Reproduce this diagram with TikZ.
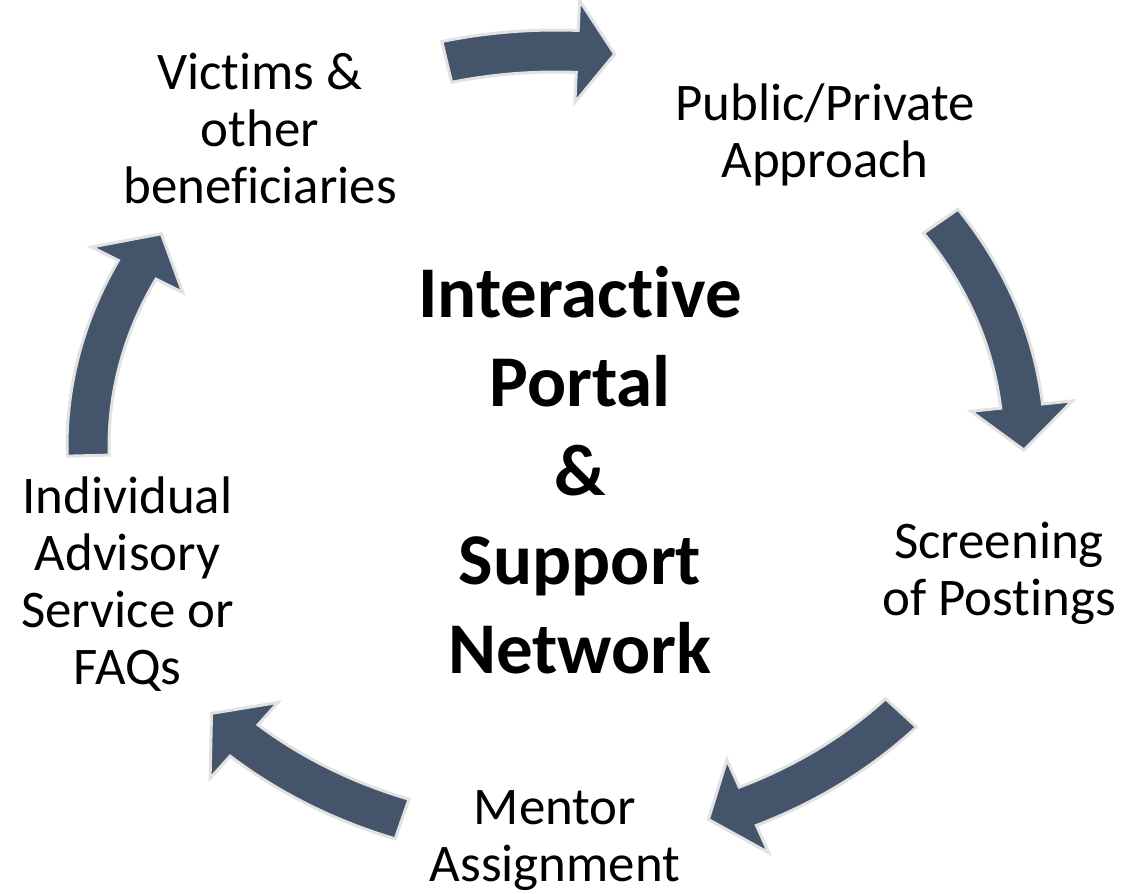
\documentclass[tikz,border=0pt]{standalone}
\usepackage{fontspec}
\setmainfont{Carlito}[Ligatures={CommonOff,ContextualOff,RequiredOff}]
\usepackage{tikz}
\definecolor{slate}{HTML}{44546A}
\definecolor{rim}{HTML}{E2E2E2}
\def\rx{468}
\def\ry{395}
\def\bw{21}
\def\hw{51}
\newcommand{\cyclearrow}[3]{%
\draw[blockarrow] ({(\rx+\bw)*cos(#1)},{(\ry+\bw)*sin(#1)})
  arc[start angle=#1, end angle=#2, x radius=\rx+\bw, y radius=\ry+\bw]
  -- ({(\rx+\hw)*cos(#2)},{(\ry+\hw)*sin(#2)})
  -- ({\rx*cos(#3)},{\ry*sin(#3)})
  -- ({(\rx-\hw)*cos(#2)},{(\ry-\hw)*sin(#2)})
  -- ({(\rx-\bw)*cos(#2)},{(\ry-\bw)*sin(#2)})
  arc[start angle=#2, end angle=#1, x radius=\rx-\bw, y radius=\ry-\bw]
  -- cycle;}
\begin{document}
\begin{tikzpicture}[x=0.02cm, y=0.02cm,
                    every node/.style={align=center, inner sep=0pt},
                    item/.style={font=\fontsize{30.1}{32.4}\selectfont},
                    hub/.style={font=\fontsize{41.5}{50.6}\selectfont\bfseries},
                    blockarrow/.style={fill=slate, draw=rim, line width=0.06cm}]
\useasboundingbox (0,0) rectangle (1145,893);

\node[item] (V) at (260,764.5) {Victims \&\\other\\beneficiaries};
\node[item] (P) at (825,758.5) {Public/Private\\Approach};
\node[item] (S) at (999,320) {Screening\\of Postings};
\node[item] (M) at (555,52) {Mentor\\Assignment};
\node[item] (I) at (127.5,309) {Individual\\Advisory\\Service or\\FAQs};
\node[hub] (C) at (580,423) {Interactive\\Portal\\\&\\Support\\Network};

\begin{scope}[shift={(556,447)}]
\cyclearrow{103.5}{87.4}{82.8}
\cyclearrow{34.7}{5.8}{-0.6}
\cyclearrow{-42.5}{-65.8}{-71}
\cyclearrow{-109.2}{-131.8}{-137.4}
\cyclearrow{181.4}{153.5}{147.5}
\end{scope}
\end{tikzpicture}
\end{document}
